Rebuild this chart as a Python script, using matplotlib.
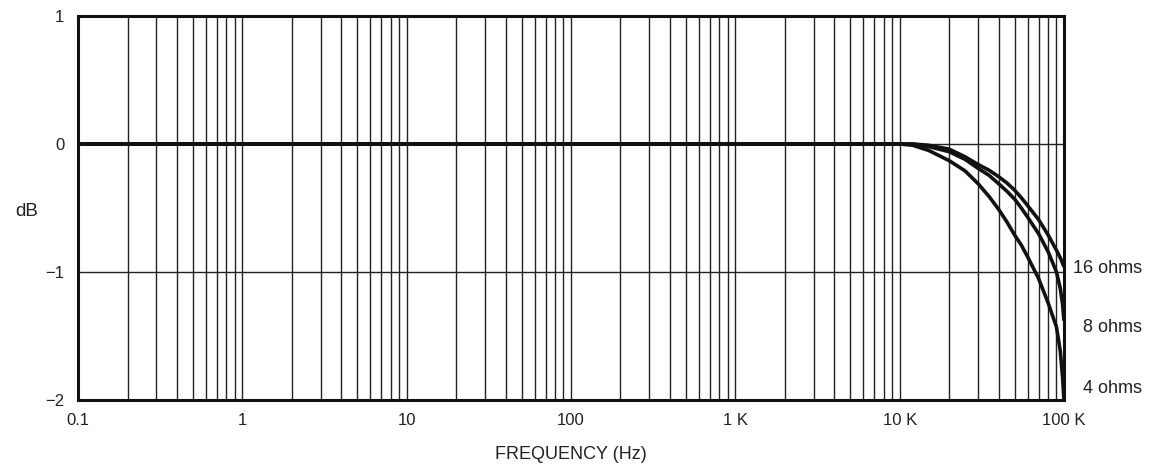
import matplotlib
matplotlib.use("Agg")
import matplotlib.pyplot as plt

plt.rcParams['font.family'] = ['Liberation Sans', 'DejaVu Sans']

# Data
freq = [0.1, 1, 10, 100, 1000, 10000, 12000, 15000, 20000, 25000, 30000,
        35000, 40000, 45000, 50000, 55000, 60000, 70000, 80000, 90000,
        95000, 98000, 100000]
db_16 = [0, 0, 0, 0, 0, 0, 0, -0.01, -0.04, -0.10, -0.16,
         -0.205, -0.255, -0.305, -0.36, -0.42, -0.48, -0.59, -0.71, -0.83,
         -0.89, -0.93, -0.96]
db_8 = [0, 0, 0, 0, 0, 0, 0, -0.02, -0.06, -0.12, -0.19,
        -0.245, -0.31, -0.37, -0.43, -0.50, -0.57, -0.70, -0.84, -1.00,
        -1.13, -1.25, -1.38]
db_4 = [0, 0, 0, 0, 0, 0, -0.01, -0.05, -0.13, -0.21, -0.31,
        -0.41, -0.51, -0.61, -0.71, -0.79, -0.88, -1.05, -1.24, -1.43,
        -1.62, -1.82, -2.00]
series_labels = ["16 ohms", "8 ohms", "4 ohms"]
label_y = [-0.97, -1.43, -1.91]

x_ticks = [0.1, 1, 10, 100, 1000, 10000, 100000]
x_ticklabels = ["0.1", "1", "10", "100", "1 K", "10 K", "100 K"]
y_ticks = [-2, -1, 0, 1]
y_ticklabels = ["\u22122", "\u22121", "0", "1"]

fig = plt.figure(figsize=(11.51, 4.66), dpi=100)
ax = fig.add_axes([0.0678, 0.1416, 0.8566, 0.8241])

ax.set_xscale('log')
ax.set_xlim(0.1, 100000)
ax.set_ylim(-2, 1)

# grid: every 1..9 within each decade
grid_x = [m * 10.0 ** e for e in range(-1, 5) for m in range(1, 10)][1:]
for gx in grid_x:
    ax.axvline(gx, color='#222222', lw=1.0, zorder=1)
for gy in [-1, 0]:
    ax.axhline(gy, color='#222222', lw=1.0, zorder=1)

for d in [db_16, db_8, db_4]:
    ax.plot(freq, d, color='#111111', lw=2.6, zorder=3, solid_capstyle='butt')

for lab, yv in zip(series_labels, label_y):
    ax.text(1142 / 1151, 0.1416 + 0.8241 * (yv + 2) / 3, lab,
            transform=fig.transFigure, fontsize=13,
            ha='right', va='center', color='#222222')

ax.set_xticks(x_ticks)
ax.set_xticklabels(x_ticklabels)
ax.xaxis.set_minor_locator(matplotlib.ticker.NullLocator())
ax.set_yticks(y_ticks)
ax.set_yticklabels(y_ticklabels)
ax.tick_params(axis='both', length=0, labelsize=12, colors='#222222')
ax.tick_params(axis='x', pad=9)
ax.tick_params(axis='y', pad=10)

for s in ax.spines.values():
    s.set_linewidth(2.2)
    s.set_color('#111111')

ax.set_xlabel("FREQUENCY (Hz)", fontsize=13, color='#222222', labelpad=13)
ax.set_ylabel("dB", fontsize=13.5, rotation=0, color='#222222', labelpad=14, va='center')
ax.yaxis.set_label_coords(-0.052, 0.49)

fig.savefig("out.png", dpi=100)
